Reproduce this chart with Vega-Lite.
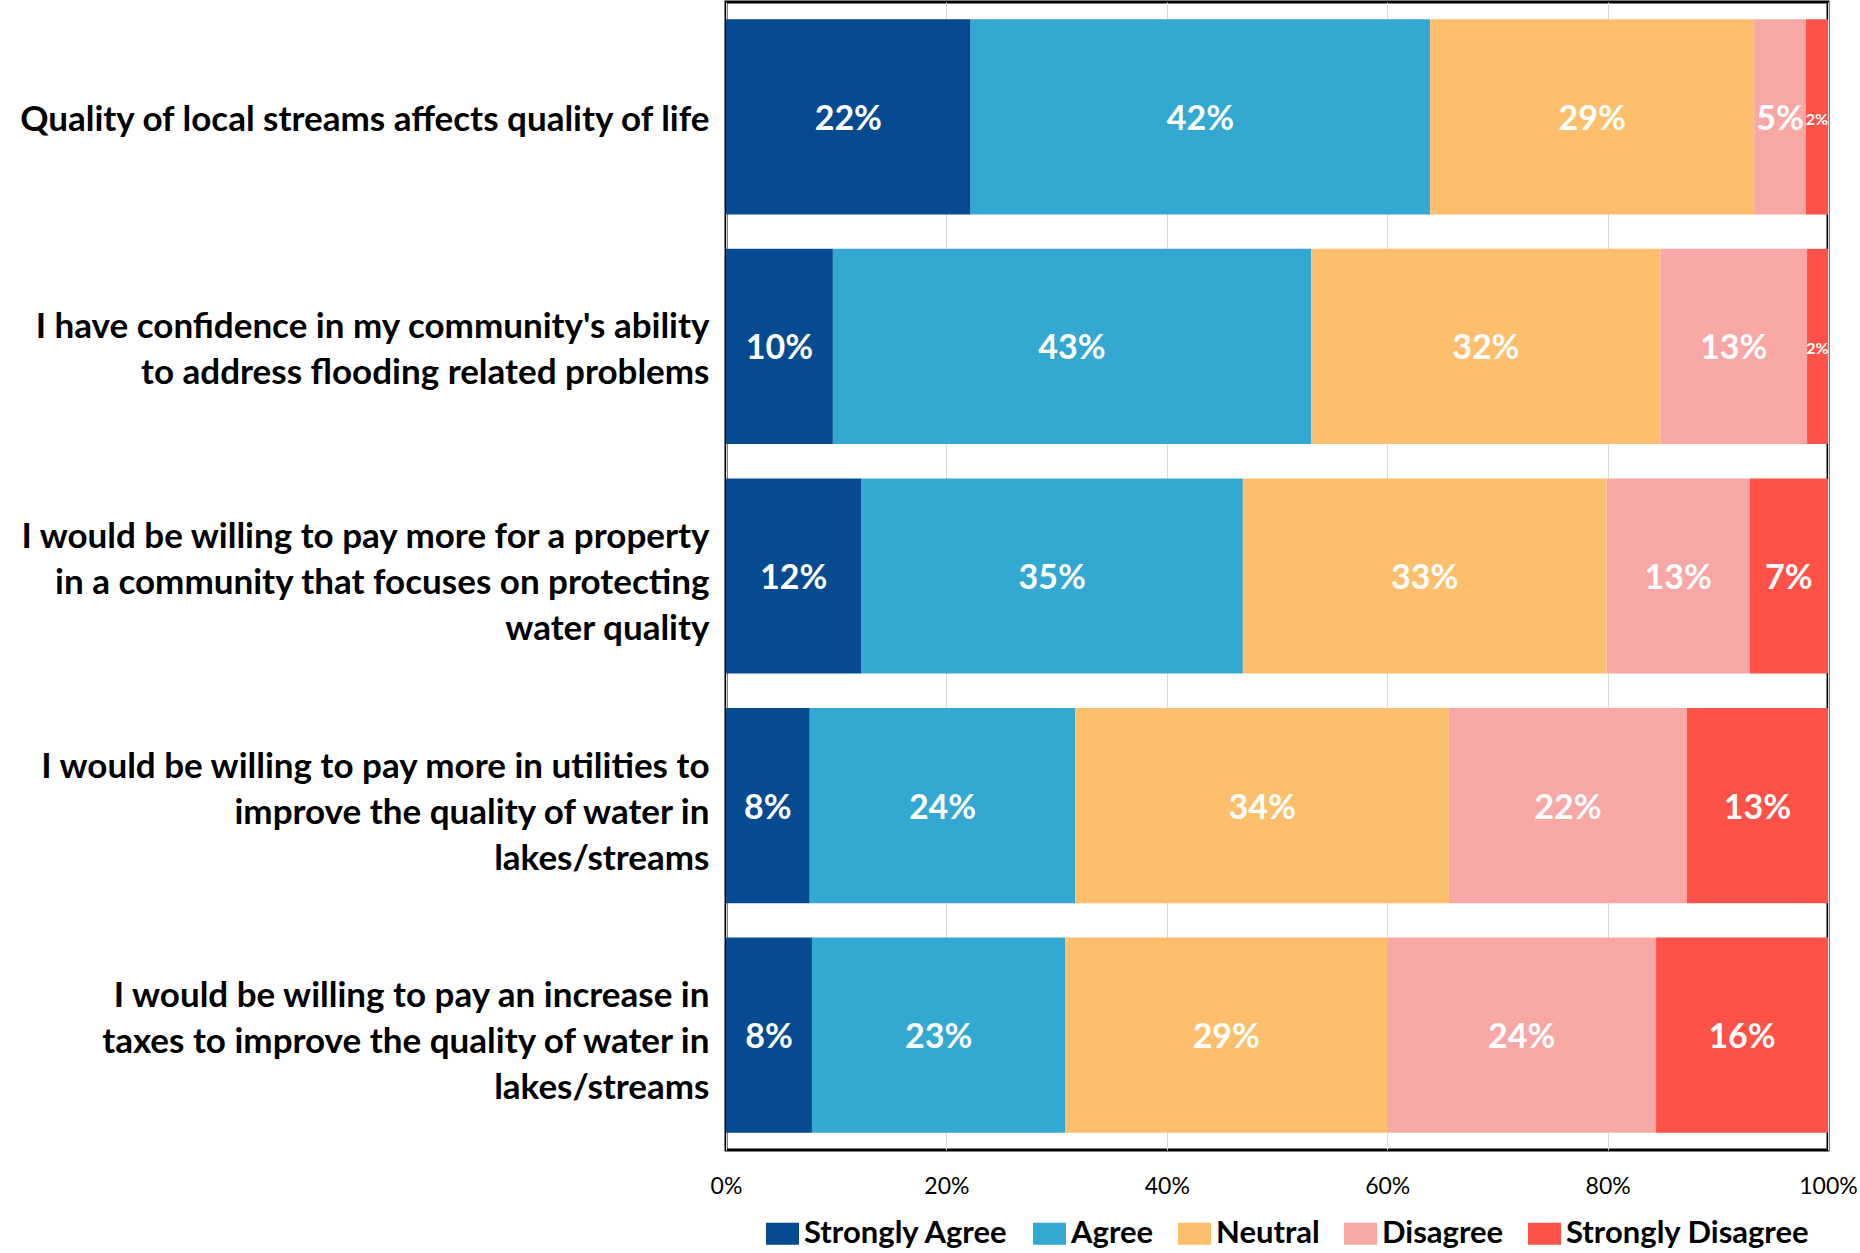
{
  "$schema": "https://vega.github.io/schema/vega-lite/v6.json",
  "autosize": "none",
  "width": 1102,
  "height": 1148,
  "padding": {"left": 726, "top": 2, "right": 32, "bottom": 103},
  "background": "white",
  "config": {
    "view": {"stroke": "black", "strokeWidth": 3},
    "font": "Lato"
  },
  "data": {
    "values": [
      {"question": "Quality of local streams affects quality of life", "response": "Strongly Agree", "k": 1, "pct": 22.2},
      {"question": "Quality of local streams affects quality of life", "response": "Agree", "k": 2, "pct": 41.7},
      {"question": "Quality of local streams affects quality of life", "response": "Neutral", "k": 3, "pct": 29.4},
      {"question": "Quality of local streams affects quality of life", "response": "Disagree", "k": 4, "pct": 4.7},
      {"question": "Quality of local streams affects quality of life", "response": "Strongly Disagree", "k": 5, "pct": 2.0},
      {"question": "I have confidence in my community's ability|to address flooding related problems", "response": "Strongly Agree", "k": 1, "pct": 9.7},
      {"question": "I have confidence in my community's ability|to address flooding related problems", "response": "Agree", "k": 2, "pct": 43.4},
      {"question": "I have confidence in my community's ability|to address flooding related problems", "response": "Neutral", "k": 3, "pct": 31.7},
      {"question": "I have confidence in my community's ability|to address flooding related problems", "response": "Disagree", "k": 4, "pct": 13.3},
      {"question": "I have confidence in my community's ability|to address flooding related problems", "response": "Strongly Disagree", "k": 5, "pct": 1.9},
      {"question": "I would be willing to pay more for a property|in a community that focuses on protecting|water quality", "response": "Strongly Agree", "k": 1, "pct": 12.3},
      {"question": "I would be willing to pay more for a property|in a community that focuses on protecting|water quality", "response": "Agree", "k": 2, "pct": 34.6},
      {"question": "I would be willing to pay more for a property|in a community that focuses on protecting|water quality", "response": "Neutral", "k": 3, "pct": 33.0},
      {"question": "I would be willing to pay more for a property|in a community that focuses on protecting|water quality", "response": "Disagree", "k": 4, "pct": 13.0},
      {"question": "I would be willing to pay more for a property|in a community that focuses on protecting|water quality", "response": "Strongly Disagree", "k": 5, "pct": 7.1},
      {"question": "I would be willing to pay more in utilities to|improve the quality of water in|lakes/streams", "response": "Strongly Agree", "k": 1, "pct": 7.6},
      {"question": "I would be willing to pay more in utilities to|improve the quality of water in|lakes/streams", "response": "Agree", "k": 2, "pct": 24.1},
      {"question": "I would be willing to pay more in utilities to|improve the quality of water in|lakes/streams", "response": "Neutral", "k": 3, "pct": 33.9},
      {"question": "I would be willing to pay more in utilities to|improve the quality of water in|lakes/streams", "response": "Disagree", "k": 4, "pct": 21.6},
      {"question": "I would be willing to pay more in utilities to|improve the quality of water in|lakes/streams", "response": "Strongly Disagree", "k": 5, "pct": 12.8},
      {"question": "I would be willing to pay an increase in|taxes to improve the quality of water in|lakes/streams", "response": "Strongly Agree", "k": 1, "pct": 7.8},
      {"question": "I would be willing to pay an increase in|taxes to improve the quality of water in|lakes/streams", "response": "Agree", "k": 2, "pct": 23.0},
      {"question": "I would be willing to pay an increase in|taxes to improve the quality of water in|lakes/streams", "response": "Neutral", "k": 3, "pct": 29.2},
      {"question": "I would be willing to pay an increase in|taxes to improve the quality of water in|lakes/streams", "response": "Disagree", "k": 4, "pct": 24.4},
      {"question": "I would be willing to pay an increase in|taxes to improve the quality of water in|lakes/streams", "response": "Strongly Disagree", "k": 5, "pct": 15.6}
    ]
  },
  "transform": [
    {"stack": "pct", "groupby": ["question"], "sort": [{"field": "k", "order": "ascending"}], "as": ["x0", "x1"]},
    {"calculate": "(datum.x0 + datum.x1) / 2", "as": "xm"},
    {"calculate": "format(datum.pct, '.0f') + '%'", "as": "lbl"}
  ],
  "encoding": {
    "y": {
      "field": "question",
      "type": "nominal",
      "sort": [
        "Quality of local streams affects quality of life",
        "I have confidence in my community's ability|to address flooding related problems",
        "I would be willing to pay more for a property|in a community that focuses on protecting|water quality",
        "I would be willing to pay more in utilities to|improve the quality of water in|lakes/streams",
        "I would be willing to pay an increase in|taxes to improve the quality of water in|lakes/streams"
      ],
      "scale": {"paddingInner": 0.15, "paddingOuter": 0.075},
      "axis": {
        "title": null,
        "ticks": false,
        "domain": false,
        "labelExpr": "split(datum.label, '|')",
        "labelFont": "Lato",
        "labelFontWeight": "bold",
        "labelFontSize": 35,
        "labelLineHeight": 46,
        "labelColor": "black",
        "labelLimit": 800,
        "labelPadding": 17,
        "labelOffset": {
          "condition": [
            {"test": "length(split(datum.value, '|')) == 3", "value": -39},
            {"test": "length(split(datum.value, '|')) == 2", "value": -19}
          ],
          "value": 3
        }
      }
    }
  },
  "layer": [
    {
      "mark": {"type": "bar"},
      "encoding": {
        "x": {
          "field": "x0",
          "type": "quantitative",
          "scale": {"domain": [0, 100], "nice": false},
          "axis": {
            "title": null,
            "values": [0, 20, 40, 60, 80, 100],
            "labelExpr": "datum.value + '%'",
            "labelFlush": false,
            "grid": true,
            "gridColor": "#d9d9d9",
            "gridWidth": 1,
            "ticks": false,
            "domain": false,
            "labelFont": "Lato",
            "labelFontSize": 23,
            "labelColor": "black",
            "labelPadding": 25
          }
        },
        "x2": {"field": "x1"},
        "color": {
          "field": "response",
          "type": "nominal",
          "scale": {
            "domain": ["Strongly Agree", "Agree", "Neutral", "Disagree", "Strongly Disagree"],
            "range": ["#064b91", "#32a8d2", "#fdbf6c", "#f9a7a5", "#fe5147"]
          },
          "legend": {
            "title": null,
            "orient": "none",
            "direction": "horizontal",
            "legendX": 40,
            "legendY": 1215,
            "symbolType": "M-1,-0.667H1V0.667H-1Z",
            "symbolSize": 1089,
            "symbolStrokeWidth": 0,
            "symbolOpacity": 1,
            "labelFont": "Lato",
            "labelFontWeight": "bold",
            "labelFontSize": 31,
            "labelColor": "black",
            "labelOffset": 5,
            "labelLimit": 400,
            "columnPadding": 24
          }
        }
      }
    },
    {
      "mark": {"type": "text", "color": "white", "fontWeight": "bold", "font": "Lato", "baseline": "middle", "align": "center", "dy": 3},
      "encoding": {
        "x": {"field": "xm", "type": "quantitative"},
        "text": {"field": "lbl", "type": "nominal"},
        "size": {"condition": {"test": "datum.pct < 3", "value": 16}, "value": 34}
      }
    }
  ]
}
